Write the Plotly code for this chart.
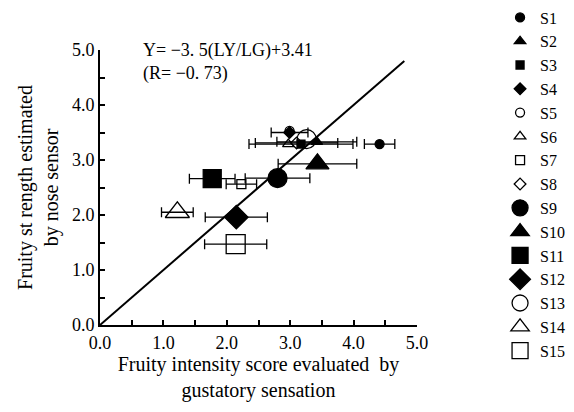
import plotly.graph_objects as go

series = ["S1", "S2", "S3", "S4", "S5", "S6", "S7", "S8",
          "S9", "S10", "S11", "S12", "S13", "S14", "S15"]
gustatory = [4.41, 3.42, 3.17, 2.99, 2.99, 2.97, 2.23, 3.10,
             2.80, 3.43, 1.77, 2.15, 3.26, 1.22, 2.14]
nose = [3.29, 3.33, 3.29, 3.50, 3.53, 3.29, 2.56, 3.31,
        2.67, 2.93, 2.66, 1.96, 3.38, 2.05, 1.47]
gust_err = [0.24, 0.63, 0.82, 0.29, 0.0, 0.0, 0.24, 0.65,
            0.51, 0.62, 0.36, 0.49, 0.0, 0.25, 0.49]
symbols = ["circle", "triangle-up", "square", "diamond", "circle-open",
           "triangle-up-open", "square-open", "diamond-open",
           "circle", "triangle-up", "square", "diamond", "circle-open",
           "triangle-up-open", "square-open"]
sizes = [9, 10, 8, 9, 9, 10, 9, 9, 19, 20, 18, 18, 19, 21, 19]

fit_x = [0.0, 4.8]
fit_y = [0.0, 4.8]

tick_vals = [0, 0.5, 1, 1.5, 2, 2.5, 3, 3.5, 4, 4.5, 5]
tick_text = ["0.0", "", "1.0", "", "2.0", "", "3.0", "", "4.0", "", "5.0"]

FONT = "Liberation Serif"

fig = go.Figure()
fig.add_trace(go.Scatter(x=fit_x, y=fit_y, mode="lines",
                         line=dict(color="black", width=2),
                         showlegend=False, hoverinfo="skip"))

for i, name in enumerate(series):
    fig.add_trace(go.Scatter(
        x=[gustatory[i]], y=[nose[i]], mode="markers", name=name,
        legendgroup=name,
        marker=dict(symbol=symbols[i], size=sizes[i], color="black",
                    line=dict(color="black", width=1.3)),
        error_x=dict(type="data", array=[gust_err[i]], visible=gust_err[i] > 0,
                     color="black", thickness=1.3, width=5),
    ))

fig.add_annotation(x=0.13, y=1.045, xref="paper", yref="paper",
                   text="Y= \u22123. 5(LY/LG)+3.41<br>(R= \u22120. 73)",
                   showarrow=False, xanchor="left", yanchor="top", align="left",
                   font=dict(family=FONT, size=18, color="black"))

axis_common = dict(range=[0, 5], showline=True, linecolor="black", linewidth=2,
                   ticks="inside", ticklen=5, tickwidth=1.5, tickcolor="black",
                   showgrid=False, zeroline=False, automargin=False,
                   tickvals=tick_vals, ticktext=tick_text,
                   tickfont=dict(family=FONT, size=18, color="black"))

fig.update_layout(
    width=574, height=412,
    margin=dict(l=100, r=157, t=50, b=87, autoexpand=False),
    paper_bgcolor="white", plot_bgcolor="white",
    xaxis=dict(**axis_common,
               title=dict(text="Fruity intensity score evaluated  by<br>gustatory sensation",
                          font=dict(family=FONT, size=20, color="black"), standoff=4)),
    yaxis=dict(**axis_common,
               title=dict(text="Fruity st rength estimated<br>by nose sensor",
                          font=dict(family=FONT, size=20, color="black"), standoff=8)),
    legend=dict(x=1.262, y=1.18, xanchor="left", yanchor="top",
                font=dict(family=FONT, size=16, color="black"),
                itemsizing="trace", tracegroupgap=0, maxheight=410,
                bgcolor="rgba(0,0,0,0)"),
    showlegend=True,
)

fig.write_html("out.html")
